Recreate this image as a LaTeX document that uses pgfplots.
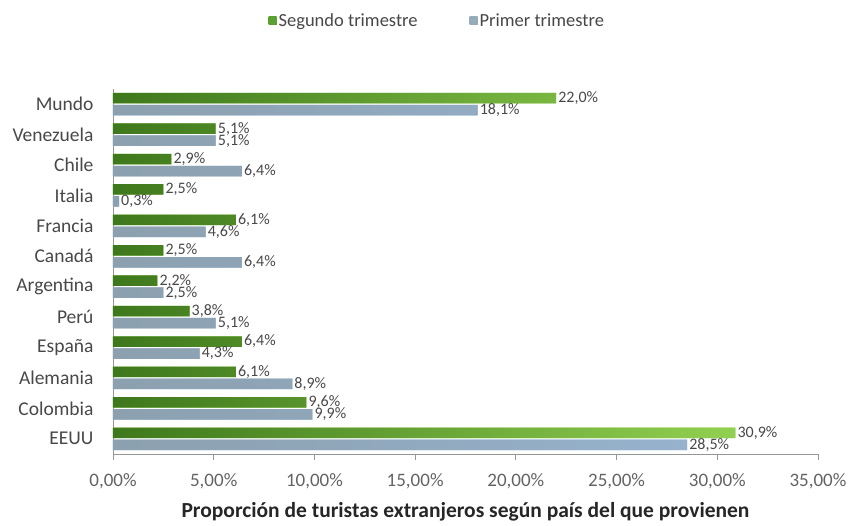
\documentclass[border=0pt]{standalone}
\usepackage{pgfplots}
\pgfplotsset{compat=1.18}
\usepackage{fontspec}
\setmainfont{Carlito}
\definecolor{gdark}{RGB}{62,120,28}
\definecolor{glight}{RGB}{146,208,80}
\definecolor{gleg}{RGB}{90,160,50}
\definecolor{bdark}{RGB}{140,160,175}
\definecolor{blight}{RGB}{150,178,205}
\definecolor{bleg}{RGB}{150,172,185}
\definecolor{axgray}{RGB}{150,150,150}
\definecolor{txt}{RGB}{72,72,72}
\begin{document}
\begin{tikzpicture}
\useasboundingbox (-113pt,-71pt) rectangle (738pt,454pt);
\begin{axis}[
  scale only axis,
  width=705pt, height=365pt,
  xbar, bar width=10.5pt,
  xmin=0, xmax=35,
  ymin=-0.5, ymax=11.5,
  axis x line*=bottom, axis y line*=left,
  axis line style={axgray, line width=0.8pt},
  xtick={0,5,...,35},
  ytick={0,...,11},
  yticklabels={EEUU,Colombia,Alemania,España,Perú,Argentina,Canadá,Francia,Italia,Chile,Venezuela,Mundo},
  y tick style={draw=none},
  x tick style={axgray, line width=0.8pt},
  tick align=outside, major tick length=6pt,
  /pgf/number format/assume math mode=true,
  xticklabel={\pgfmathprintnumber[fixed,fixed zerofill,precision=2,use comma]{\tick}\%},
  xticklabel style={font=\fontsize{19}{21}\selectfont, text=txt!85, yshift=-10pt},
  yticklabel style={font=\fontsize{19.5}{21}\selectfont, text=txt, xshift=-10pt},
  xlabel={\textbf{Proporción de turistas extranjeros según país del que provienen}},
  xlabel style={font=\fontsize{21.5}{23}\selectfont, text=black!85, yshift=-7pt},
  nodes near coords={\pgfmathprintnumber[fixed,fixed zerofill,precision=1,use comma]{\pgfplotspointmeta}\%},
  nodes near coords style={font=\fontsize{16}{18}\selectfont, text=txt, anchor=west, inner sep=2pt},
  legend style={at={(0.46,1)}, anchor=center, yshift=68pt, draw=none,
    font=\fontsize{18.5}{20}\selectfont, text=txt, legend columns=2,
    /tikz/every even column/.append style={column sep=50pt}},
  clip=false,
]
\addplot[bar shift=6pt, draw=none, left color=gdark, right color=glight, fill=glight,
  legend image code/.code={\fill[left color=gleg, right color=gleg, fill=gleg] (0pt,-4pt) rectangle (8pt,4pt);}] coordinates {
(30.9,0) (9.6,1) (6.1,2) (6.4,3) (3.8,4) (2.2,5) (2.5,6) (6.1,7) (2.5,8) (2.9,9) (5.1,10) (22.0,11)};
\addlegendentry{Segundo trimestre}
\addplot[bar shift=-6pt, draw=none, left color=bdark, right color=blight, fill=blight,
  legend image code/.code={\fill[left color=bleg, right color=bleg, fill=bleg] (0pt,-4pt) rectangle (8pt,4pt);}] coordinates {
(28.5,0) (9.9,1) (8.9,2) (4.3,3) (5.1,4) (2.5,5) (6.4,6) (4.6,7) (0.3,8) (6.4,9) (5.1,10) (18.1,11)};
\addlegendentry{Primer trimestre}
\end{axis}
\end{tikzpicture}
\end{document}
